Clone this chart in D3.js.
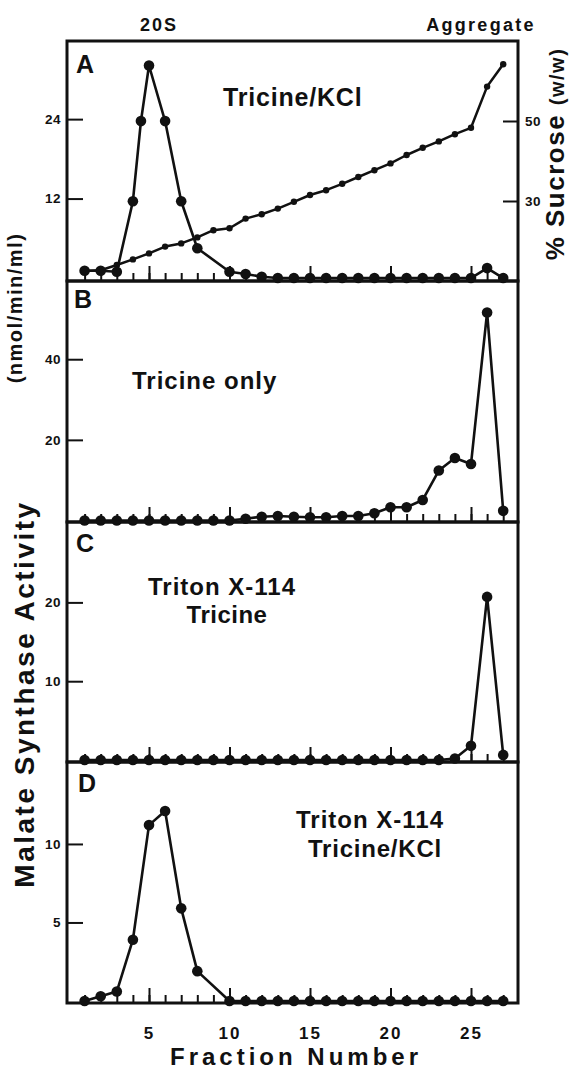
<!DOCTYPE html>
<html>
<head>
<meta charset="utf-8">
<script src="https://cdn.jsdelivr.net/npm/d3@7/dist/d3.min.js"></script>
<style>
  body { margin: 0; background: #fff; }
  svg { display: block; }
  text { font-family: "Liberation Sans", Arial, sans-serif; font-weight: bold; fill: #111; }
</style>
</head>
<body>
<svg></svg>
<script>
// ---- data ----
const fracA = [1, 2, 3, 4, 4.5, 5, 6, 7, 8, 10, 11, 12, 13, 14, 15, 16, 17, 18, 19, 20, 21, 22, 23, 24, 25, 26, 27];
const activityA = [1.1, 1.1, 0.95, 11.6, 23.7, 32.1, 23.7, 11.6, 4.5, 0.95, 0.6, 0.2, 0, 0, 0, 0, 0, 0, 0, 0, 0, 0, 0, 0, 0, 1.5, 0];

const fracSucrose = [1, 2, 3, 4, 5, 6, 7, 8, 9, 10, 11, 12, 13, 14, 15, 16, 17, 18, 19, 20, 21, 22, 23, 24, 25, 26, 27];
const sucroseA = [12.5, 12.7, 14.0, 15.4, 16.9, 18.6, 19.4, 20.9, 22.7, 23.2, 25.6, 26.7, 28.1, 29.8, 31.5, 32.7, 34.3, 36.0, 37.7, 39.4, 41.5, 43.3, 44.9, 46.7, 48.3, 58.6, 64.2];

const fracB = [1, 2, 3, 4, 5, 6, 7, 8, 9, 10, 11, 12, 13, 14, 15, 16, 17, 18, 19, 20, 21, 22, 23, 24, 25, 26, 27];
const activityB = [0, 0, 0, 0, 0, 0, 0, 0, 0, 0, 0.45, 0.95, 1.1, 0.95, 0.8, 0.8, 1.1, 1.1, 1.8, 3.3, 3.3, 5.1, 12.4, 15.5, 14.0, 51.6, 2.4];

const fracC = [1, 2, 3, 4, 5, 6, 7, 8, 9, 10, 11, 12, 13, 14, 15, 16, 17, 18, 19, 20, 21, 22, 23, 24, 25, 26, 27];
const activityC = [0, 0, 0, 0, 0, 0, 0, 0, 0, 0, 0, 0, 0, 0, 0, 0, 0, 0, 0, 0, 0, 0, 0, 0.2, 1.8, 20.7, 0.65];

const fracD = [1, 2, 3, 4, 5, 6, 7, 8, 10, 11, 12, 13, 14, 15, 16, 17, 18, 19, 20, 21, 22, 23, 24, 25, 26, 27];
const activityD = [0, 0.3, 0.6, 3.9, 11.2, 12.1, 5.9, 1.9, 0, 0, 0, 0, 0, 0, 0, 0, 0, 0, 0, 0, 0, 0, 0, 0, 0, 0];

const ticksA = [12, 24];
const ticksSucrose = [30, 50];
const ticksB = [20, 40];
const ticksC = [10, 20];
const ticksD = [5, 10];
const fractionTicks = [1, 2, 3, 4, 5, 6, 7, 8, 9, 10, 11, 12, 13, 14, 15, 16, 17, 18, 19, 20, 21, 22, 23, 24, 25, 26, 27];
const fractionLabels = [5, 10, 15, 20, 25];

// ---- layout ----
let svg = d3.select("svg").attr("width", 570).attr("height", 1070);

const left = 67, right = 518;
let x = d3.scaleLinear().domain([0, 28]).range([68.5, 519.3]);

const panels = [
    { letter: "A", top: 41, bottom: 281, dom: [-0.45, 35.8], frac: fracA, vals: activityA, ticks: ticksA, lx: 76, ly: 73 },
    { letter: "B", top: 281, bottom: 522, dom: [-0.37, 59.4], frac: fracB, vals: activityB, ticks: ticksB, lx: 74, ly: 308 },
    { letter: "C", top: 522, bottom: 762, dom: [-0.25, 30.2], frac: fracC, vals: activityC, ticks: ticksC, lx: 76, ly: 552 },
    { letter: "D", top: 762, bottom: 1003, dom: [-0.13, 15.22], frac: fracD, vals: activityD, ticks: ticksD, lx: 78, ly: 792 }
];

function drawLine(g, xs, ys, yScale, r, width) {
    let pts = xs.map((f, i) => [x(f), yScale(ys[i])]);
    let line = d3.line();
    g.append("path")
        .attr("d", line(pts))
        .attr("fill", "none")
        .attr("stroke", "#111")
        .attr("stroke-width", width)
        .attr("stroke-linejoin", "round");
    g.selectAll(null)
        .data(pts)
        .enter()
        .append("circle")
        .attr("cx", (d) => d[0])
        .attr("cy", (d) => d[1])
        .attr("r", r)
        .attr("fill", "#111");
}

function Panel_Draw(p, isLast) {
    let g = svg.append("g");
    let y = d3.scaleLinear().domain(p.dom).range([p.bottom, p.top]);

    // left axis, ticks pointing inward
    let yAxis = g.append("g")
        .attr("transform", `translate(${left},0)`)
        .call(d3.axisLeft(y).tickValues(p.ticks).tickSizeInner(-16).tickSizeOuter(0).tickPadding(6));
    yAxis.select(".domain").remove();
    yAxis.selectAll("line").attr("stroke", "#111").attr("stroke-width", 2);
    yAxis.selectAll("text").style("font-size", "13.5px").style("letter-spacing", "0.5px").style("font-family", "Liberation Sans, Arial, sans-serif").attr("fill", "#111");

    // bottom minor / major ticks
    let xMinor = g.append("g")
        .attr("transform", `translate(0,${p.bottom})`)
        .call(d3.axisBottom(x).tickValues(fractionTicks).tickSizeInner(-8).tickSizeOuter(0).tickFormat(""));
    xMinor.select(".domain").remove();
    xMinor.selectAll("line").attr("stroke", "#111").attr("stroke-width", 2);

    let xMajor = g.append("g")
        .attr("transform", `translate(0,${p.bottom})`)
        .call(d3.axisBottom(x).tickValues(fractionLabels).tickSizeInner(-15).tickSizeOuter(0).tickPadding(24));
    xMajor.select(".domain").remove();
    xMajor.selectAll("line").attr("stroke", "#111").attr("stroke-width", 2);
    xMajor.selectAll("text")
        .style("font-size", "17px")
        .style("letter-spacing", "2px")
        .style("font-family", "Liberation Sans, Arial, sans-serif")
        .attr("fill", "#111")
        .attr("opacity", isLast ? 1 : 0);

    if (p.letter == "A") {
        let ySuc = d3.scaleLinear().domain([10, 70]).range([p.bottom, p.top]);
        let rAxis = g.append("g")
            .attr("transform", `translate(${right},0)`)
            .call(d3.axisRight(ySuc).tickValues(ticksSucrose).tickSizeInner(-15).tickSizeOuter(0).tickPadding(7));
        rAxis.select(".domain").remove();
        rAxis.selectAll("line").attr("stroke", "#111").attr("stroke-width", 2);
        rAxis.selectAll("text").style("font-size", "13.5px").style("letter-spacing", "0.5px").style("font-family", "Liberation Sans, Arial, sans-serif").attr("fill", "#111");
        drawLine(g, fracSucrose, sucroseA, ySuc, 3.2, 2.5);
    }

    drawLine(g, p.frac, p.vals, y, 5.3, 2.6);

    g.append("text")
        .attr("x", p.lx)
        .attr("y", p.ly)
        .style("font-size", "25px")
        .text(p.letter);

    return g;
}

panels.forEach((p, i) => Panel_Draw(p, i == panels.length - 1));

// frames
panels.forEach((p) => {
    svg.append("rect")
        .attr("x", left)
        .attr("y", p.top)
        .attr("width", right - left)
        .attr("height", p.bottom - p.top)
        .attr("fill", "none")
        .attr("stroke", "#111")
        .attr("stroke-width", 3);
});

// ---- annotations ----
function label(txt, xp, yp, size, anchor, spacing) {
    return svg.append("text")
        .attr("x", xp)
        .attr("y", yp)
        .attr("text-anchor", anchor || "start")
        .style("font-size", size + "px")
        .style("letter-spacing", (spacing || 0) + "px")
        .text(txt);
}

label("20S", 159, 31, 18, "middle", 2);
label("Aggregate", 481, 31, 18, "middle", 2.3);

label("Tricine/KCl", 223, 106, 25, "start", 0.8);
label("Tricine only", 132, 389, 24, "start", 1);
label("Triton X-114", 222, 595, 24, "middle", 1);
label("Tricine", 227, 623, 24, "middle", 0.5);
label("Triton X-114", 370, 828, 24, "middle", 1);
label("Tricine/KCl", 375, 857, 24, "middle", 0.8);

label("Fraction Number", 296, 1065, 24, "middle", 4);

svg.append("text")
    .attr("transform", "translate(22,308) rotate(-90)")
    .attr("text-anchor", "middle")
    .style("font-size", "20px")
    .style("letter-spacing", "1.5px")
    .text("(nmol/min/ml)");

svg.append("text")
    .attr("transform", "translate(34,694) rotate(-90)")
    .attr("text-anchor", "middle")
    .style("font-size", "28px")
    .style("letter-spacing", "2.5px")
    .text("Malate Synthase Activity");

let suc = svg.append("text")
    .attr("transform", "translate(564,154) rotate(-90)")
    .attr("text-anchor", "middle")
    .style("letter-spacing", "1.5px");
suc.append("tspan").style("font-size", "26px").text("% Sucrose ");
suc.append("tspan").style("font-size", "20px").text("(w/w)");
</script>
</body>
</html>
